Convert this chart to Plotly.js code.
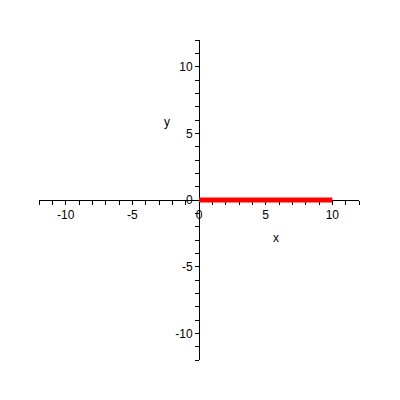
<!DOCTYPE html>
<html>
<head>
<meta charset="utf-8">
<script src="https://cdn.plot.ly/plotly-3.0.1.min.js"></script>
<style>html,body{margin:0;padding:0;background:#fff;}#chart{width:400px;height:400px;}</style>
</head>
<body>
<div id="chart"></div>
<script>
const xs = [0, 10];
const ys = [0, 0];
const xRange = [-12, 12];
const yRange = [-12, 12];
const tickValues = [-10, -5, 0, 5, 10];
const tickLabels = ["-10", "-5", "0", "5", "10"];
const xTitle = "x";
const yTitle = "y";

const axisCommon = {
  showgrid: false,
  zeroline: false,
  showline: true,
  linecolor: '#000',
  linewidth: 1,
  ticks: 'outside',
  ticklen: 4,
  tickcolor: '#000',
  tickmode: 'array',
  tickvals: tickValues,
  ticktext: tickLabels,
  minor: {dtick: 1, tick0: 0, ticks: 'outside', ticklen: 4, tickcolor: '#000', showgrid: false},
  tickfont: {family: 'Liberation Sans, Arial, sans-serif', size: 12, color: '#000'},
  anchor: 'free',
  position: 0.5,
  layer: 'below traces',
  fixedrange: true
};

Plotly.newPlot('chart', [{
  x: xs, y: ys, type: 'scatter', mode: 'lines',
  line: {color: '#ff0000', width: 5},
  hoverinfo: 'skip',
  cliponaxis: false
}], {
  width: 400, height: 400,
  margin: {l: 39, r: 41, t: 40, b: 40},
  paper_bgcolor: '#fff', plot_bgcolor: '#fff',
  showlegend: false,
  xaxis: Object.assign({}, axisCommon, {range: xRange}),
  yaxis: Object.assign({}, axisCommon, {range: yRange}),
  annotations: [
    {text: xTitle, xref: 'paper', yref: 'paper', x: (281-39)/320, y: (360-238)/320, showarrow: false,
     font: {family: 'Liberation Sans, Arial, sans-serif', size: 12, color: '#000'}},
    {text: yTitle, xref: 'paper', yref: 'paper', x: (167-39)/320, y: (360-113)/320, showarrow: false,
     font: {family: 'Liberation Sans, Arial, sans-serif', size: 12, color: '#000'}}
  ]
}, {staticPlot: true});
</script>
</body>
</html>
